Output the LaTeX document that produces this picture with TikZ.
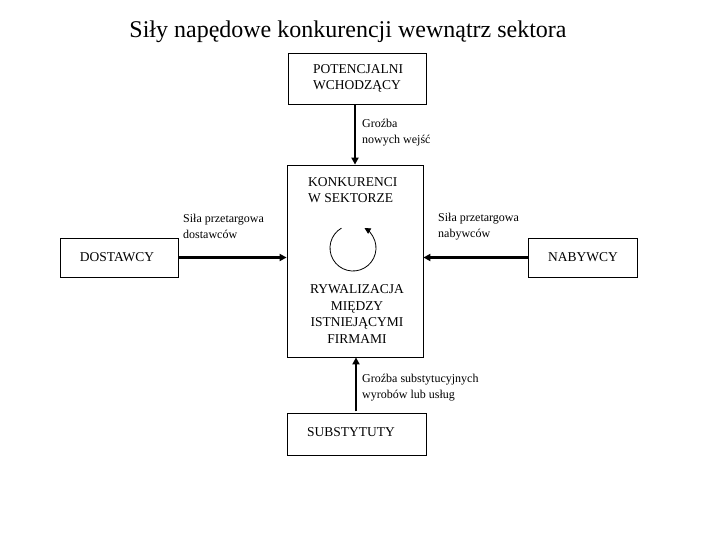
\documentclass[tikz,border=0pt]{standalone}
\usepackage{fontspec}
\setmainfont{Liberation Serif}
\usetikzlibrary{arrows.meta}
\begin{document}
\begin{tikzpicture}[x=1pt,y=-1pt,
  box/.style={draw,line width=0.8pt,inner sep=0pt},
  boxtext/.style={font=\fontsize{13.5}{16.5}\selectfont,inner sep=0pt,align=left},
  lbl/.style={font=\fontsize{12}{15.5}\selectfont,inner sep=0pt,align=left,anchor=west},
  force/.style={line width=2.2pt,-{Triangle[length=7pt,width=7pt]}}]
\useasboundingbox (0,0) rectangle (720,540);
\node[font=\fontsize{24}{28}\selectfont,inner sep=0pt] (title) at (348,32) {Siły napędowe konkurencji wewnątrz sektora};
% boxes
\node[box,minimum width=138pt,minimum height=51pt] (pot) at (357,78.5) {};
\node[boxtext,anchor=west] (pottxt) at (313,78.5) {POTENCJALNI\\WCHODZĄCY};
\node[box,minimum width=136pt,minimum height=192pt] (mid) at (355,261) {};
\node[boxtext,anchor=west] (midtxt) at (308,190) {KONKURENCI\\W SEKTORZE};
\node[boxtext,align=center] (rywtxt) at (357,314) {RYWALIZACJA\\MIĘDZY\\ISTNIEJĄCYMI\\FIRMAMI};
\node[box,minimum width=118pt,minimum height=39pt] (dost) at (119,257.5) {};
\node[boxtext] (dosttxt) at (117,257.5) {DOSTAWCY};
\node[box,minimum width=109pt,minimum height=39pt] (nab) at (583,257.5) {};
\node[boxtext] (nabtxt) at (583,257.5) {NABYWCY};
\node[box,minimum width=139pt,minimum height=42pt] (sub) at (356.5,434) {};
\node[boxtext,anchor=west] (subtxt) at (307,432) {SUBSTYTUTY};
% connectors
\draw[force] (mid.north |- pot.south) -- (mid.north);
\draw[force] (mid.south -| 356,0) ++(0,54) -- (mid.south -| 356,0);
\draw[force] (dost.east) -- (dost.east -| mid.west);
\draw[force] (nab.west) -- (nab.west -| mid.east);
% labels
\node[lbl] (l1) at (362,132.5) {Groźba\\nowych wejść};
\node[lbl] (l2) at (183,226.5) {Siła przetargowa\\dostawców};
\node[lbl] (l3) at (438,226.5) {Siła przetargowa\\nabywców};
\node[lbl] (l4) at (362,387.5) {Groźba substytucyjnych\\wyrobów lub usług};
% rotation circle
\coordinate (cc) at (353,248);
\draw[line width=0.8pt,-{Triangle[length=6pt,width=6pt]}] ([shift={(240:23)}]cc) arc[start angle=240,end angle=-60,radius=23];
\end{tikzpicture}
\end{document}
